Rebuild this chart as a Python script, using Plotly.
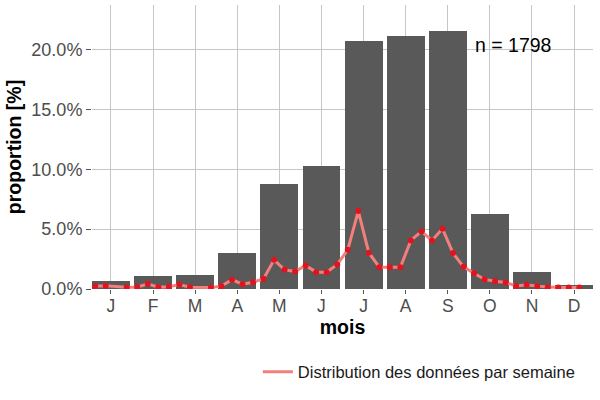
import plotly.graph_objects as go

# ---- data ----
month_labels = ["J", "F", "M", "A", "M", "J", "J", "A", "S", "O", "N", "D"]
month_pos = [1, 2, 3, 4, 5, 6, 7, 8, 9, 10, 11, 12]
monthly_pct = [0.68, 1.05, 1.2, 3.0, 8.8, 10.25, 20.75, 21.17, 21.57, 6.26, 1.46, 0.3]

weeks = [1, 2, 4, 5, 6, 7, 8, 9, 10, 12, 13, 14, 15, 16, 17, 18, 19, 20, 21, 22, 23,
         24, 25, 26, 27, 28, 29, 30, 31, 32, 33, 34, 35, 36, 37, 38, 39, 40, 41, 42,
         43, 44, 45, 46, 47]
weekly_pct = [0.24, 0.27, 0.15, 0.15, 0.43, 0.15, 0.18, 0.38, 0.15, 0.13, 0.24, 0.77,
              0.40, 0.57, 0.85, 2.44, 1.61, 1.46, 1.97, 1.41, 1.41, 2.05, 3.28, 6.51,
              3.03, 1.82, 1.82, 1.82, 4.06, 4.81, 4.06, 5.03, 3.0, 1.85, 1.32, 0.8,
              0.64, 0.54, 0.26, 0.35, 0.24, 0.15, 0.12, 0.12, 0.12]

y_ticks = [0, 5, 10, 15, 20]
y_tick_labels = ["0.0%", "5.0%", "10.0%", "15.0%", "20.0%"]
n_label = "n = 1798"
legend_name = "Distribution des données par semaine"

FONT = "Liberation Sans, Arial, sans-serif"
GRID = "#C6C6C6"

fig = go.Figure()
fig.add_trace(go.Bar(x=month_pos, y=monthly_pct, width=0.9,
                     marker=dict(color="#595959", line=dict(width=0)),
                     showlegend=False))
fig.add_trace(go.Scatter(x=weeks, y=weekly_pct, xaxis="x2", mode="lines",
                         line=dict(color="#F27F7B", width=3),
                         name=legend_name))
fig.add_trace(go.Scatter(x=weeks, y=weekly_pct, xaxis="x2", mode="markers",
                         marker=dict(color="#E0141E", size=6),
                         showlegend=False))

fig.add_annotation(x=10.55, y=20.38, xref="x", yref="y", text=n_label,
                   showarrow=False, font=dict(size=19.5, color="black", family=FONT))

fig.update_layout(
    width=600, height=400,
    margin=dict(l=92, r=7, t=5, b=111),
    paper_bgcolor="white", plot_bgcolor="white",
    font=dict(family=FONT),
    bargap=0,
    xaxis=dict(range=[0.55, 12.45], tickvals=month_pos, ticktext=month_labels,
               showgrid=True, gridcolor=GRID, gridwidth=1.2, zeroline=False,
               showline=False, ticks="outside", ticklen=4, tickcolor="#555555",
               ticklabelstandoff=-3,
               tickfont=dict(size=17.5, color="#4D4D4D"),
               title=dict(text="mois", standoff=2,
                          font=dict(size=19.5, color="black", weight="bold"))),
    xaxis2=dict(overlaying="x", range=[0.7, 48.3], visible=False, anchor="y"),
    yaxis=dict(range=[0, 23.73], tickvals=y_ticks, ticktext=y_tick_labels,
               showgrid=True, gridcolor=GRID, gridwidth=1.2, zeroline=False,
               showline=False, ticks="outside", ticklen=5, tickcolor="#555555",
               tickfont=dict(size=18, color="#4D4D4D"),
               title=dict(text="proportion [%]", standoff=4,
                          font=dict(size=19.5, color="black", weight="bold"))),
    legend=dict(orientation="h", x=0.331, xanchor="left", y=-0.292, yanchor="middle",
                font=dict(size=16.5, color="#1A1A1A"), bgcolor="rgba(0,0,0,0)"),
)

fig.write_html("out.html")
